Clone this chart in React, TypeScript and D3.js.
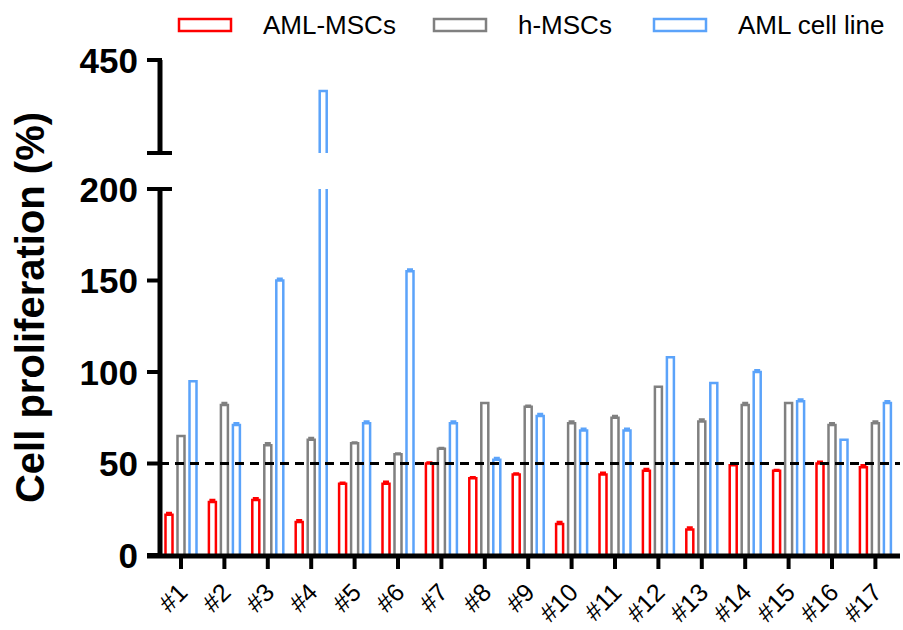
import React, { useRef, useEffect } from 'react';
import * as d3 from 'd3';

const categories = ['#1', '#2', '#3', '#4', '#5', '#6', '#7', '#8', '#9', '#10', '#11', '#12', '#13', '#14', '#15', '#16', '#17'];
const seriesNames = ['AML-MSCs', 'h-MSCs', 'AML cell line'];
const seriesColors = ['#ff0000', '#808080', '#5ba3fa'];

const amlMscs = [22, 29, 30, 18, 39, 39, 50, 42, 44, 17, 44, 46, 14, 49, 46, 50, 48];
const hMscs = [65, 82, 60, 63, 61, 55, 58, 83, 81, 72, 75, 92, 73, 82, 83, 71, 72];
const amlCellLine = [95, 71, 150, 400, 72, 155, 72, 52, 76, 68, 68, 108, 94, 100, 84, 63, 83];

const amlMscsErr = [1, 1, 1, 1, 0.5, 1, 0.5, 0.5, 0.5, 1, 1, 1, 1, 1, 0.5, 1, 1];
const hMscsErr = [0, 1, 1, 1, 0.5, 0.5, 0.5, 0, 0.5, 1, 1, 0, 1, 1, 0, 1, 1];
const amlCellLineErr = [0, 1, 1, 0, 1, 1, 1, 1, 1, 1, 1, 0, 0, 1, 1, 0, 1];

const lowerTicks = [0, 50, 100, 150, 200];
const upperTicks = [450];

const App = () => {
  const svgRef = useRef(null);

  useEffect(() => {
    const svg = d3.select(svgRef.current);
    svg.selectAll('*').remove();

    const width = 903;
    const height = 630;
    const font = '"Liberation Sans", Arial, sans-serif';
    const axisX = 160;

    const values = [amlMscs, hMscs, amlCellLine];
    const errs = [amlMscsErr, hMscsErr, amlCellLineErr];

    // two y segments (axis break)
    const yLow = d3.scaleLinear().domain([0, 200]).range([555, 189]);
    const yHigh = d3.scaleLinear().domain([300, 450]).range([153, 60]);
    const breakMax = 200;

    const x = d3.scaleBand().domain(categories).range([159.3, 897.1]);
    const xs = d3.scaleBand().domain(seriesNames).range([-18, 18]);
    const barW = 7;

    // bars
    values.forEach((vals, si) => {
      const color = seriesColors[si];
      vals.forEach((v, i) => {
        const cx = x(categories[i]) + x.bandwidth() / 2 + xs(seriesNames[si]) + xs.bandwidth() / 2;
        const x0 = cx - barW / 2;
        const x1 = cx + barW / 2;
        const g = svg.append('g');
        let topY;
        if (v > breakMax) {
          g.append('path')
            .attr('d', `M${x0},${yLow(0)}V${yLow(breakMax)}M${x1},${yLow(0)}V${yLow(breakMax)}`)
            .attr('fill', 'none').attr('stroke', color).attr('stroke-width', 2.5);
          topY = yHigh(v);
          g.append('path')
            .attr('d', `M${x0},${yHigh(300)}V${topY}H${x1}V${yHigh(300)}`)
            .attr('fill', 'none').attr('stroke', color).attr('stroke-width', 2.5);
        } else {
          topY = yLow(v);
          g.append('path')
            .attr('d', `M${x0},${yLow(0)}V${topY}H${x1}V${yLow(0)}`)
            .attr('fill', '#fff').attr('stroke', color).attr('stroke-width', 2.5);
        }
        const e = errs[si][i];
        if (e > 0 && v <= breakMax) {
          const ey = yLow(v + e);
          g.append('path')
            .attr('d', `M${cx},${topY}V${ey}M${cx - 3},${ey}H${cx + 3}`)
            .attr('fill', 'none').attr('stroke', color).attr('stroke-width', 2.5);
        }
      });
    });

    // dashed reference line at 50%
    svg.append('line')
      .attr('x1', axisX).attr('x2', 900)
      .attr('y1', yLow(50)).attr('y2', yLow(50))
      .attr('stroke', '#000').attr('stroke-width', 3)
      .attr('stroke-dasharray', '9,6');

    // y axis lower segment
    svg.append('line')
      .attr('x1', axisX).attr('x2', axisX)
      .attr('y1', yLow(0) + 2).attr('y2', yLow(200))
      .attr('stroke', '#000').attr('stroke-width', 5);
    lowerTicks.forEach(t => {
      svg.append('line')
        .attr('x1', 147).attr('x2', t === 200 ? 172 : axisX)
        .attr('y1', yLow(t)).attr('y2', yLow(t))
        .attr('stroke', '#000').attr('stroke-width', 4);
      svg.append('text')
        .attr('x', 138).attr('y', yLow(t)).attr('dy', '0.36em')
        .attr('text-anchor', 'end')
        .attr('font-family', font).attr('font-weight', 'bold').attr('font-size', 35)
        .text(t);
    });

    // y axis upper segment
    svg.append('line')
      .attr('x1', axisX).attr('x2', axisX)
      .attr('y1', yHigh(300)).attr('y2', yHigh(450))
      .attr('stroke', '#000').attr('stroke-width', 5);
    svg.append('line')
      .attr('x1', 147).attr('x2', 172)
      .attr('y1', yHigh(300)).attr('y2', yHigh(300))
      .attr('stroke', '#000').attr('stroke-width', 4);
    upperTicks.forEach(t => {
      svg.append('line')
        .attr('x1', 147).attr('x2', axisX + 2)
        .attr('y1', yHigh(t)).attr('y2', yHigh(t))
        .attr('stroke', '#000').attr('stroke-width', 4);
      svg.append('text')
        .attr('x', 138).attr('y', yHigh(t)).attr('dy', '0.36em')
        .attr('text-anchor', 'end')
        .attr('font-family', font).attr('font-weight', 'bold').attr('font-size', 35)
        .text(t);
    });

    // x axis
    svg.append('line')
      .attr('x1', 147).attr('x2', 900)
      .attr('y1', 556).attr('y2', 556)
      .attr('stroke', '#000').attr('stroke-width', 5);
    categories.forEach(c => {
      const cx = x(c) + x.bandwidth() / 2;
      svg.append('line')
        .attr('x1', cx).attr('x2', cx)
        .attr('y1', 556).attr('y2', 569)
        .attr('stroke', '#000').attr('stroke-width', 4);
      svg.append('text')
        .attr('transform', `translate(${cx + 8},${594}) rotate(-45)`)
        .attr('text-anchor', 'end')
        .attr('font-family', font).attr('font-size', 25)
        .text(c);
    });

    // y label
    svg.append('text')
      .attr('transform', `translate(44,${(yLow(0) + yHigh(450)) / 2}) rotate(-90)`)
      .attr('text-anchor', 'middle')
      .attr('font-family', font).attr('font-weight', 'bold').attr('font-size', 40)
      .text('Cell proliferation (%)');

    // legend
    const legendX = [179, 434, 654];
    seriesNames.forEach((name, i) => {
      svg.append('rect')
        .attr('x', legendX[i]).attr('y', 19)
        .attr('width', 52).attr('height', 12)
        .attr('fill', '#fff').attr('stroke', seriesColors[i]).attr('stroke-width', 2.5);
      svg.append('text')
        .attr('x', legendX[i] + 84).attr('y', 34)
        .attr('font-family', font).attr('font-size', 26)
        .text(name);
    });

    svg.attr('width', width).attr('height', height);
  }, []);

  return (
    <div style={{ position: 'absolute', left: 0, top: 0 }}>
      <svg ref={svgRef} style={{ display: 'block', background: '#fff' }}></svg>
    </div>
  );
};

export default App;
